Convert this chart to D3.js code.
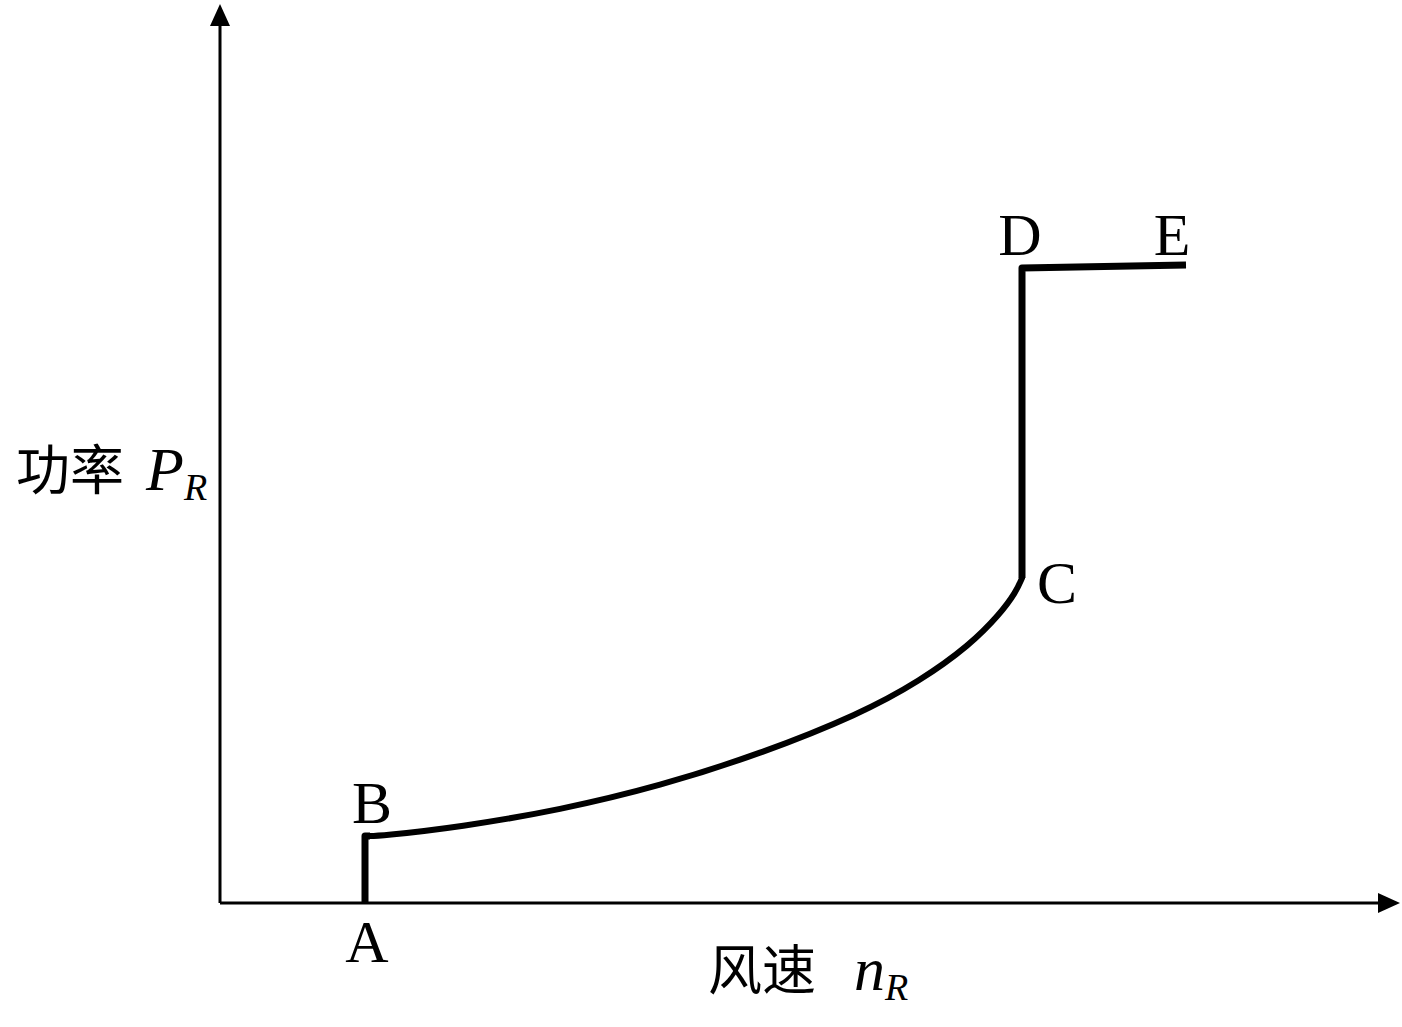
<!DOCTYPE html>
<html>
<head>
<meta charset="utf-8">
<script src="https://cdn.jsdelivr.net/npm/d3@7"></script>
<style>
  body { margin: 0; background: #fff; }
  text { fill: #000; }
</style>
</head>
<body>
<div id="chart"></div>
<script>
// curve data (wind speed vs power, arbitrary units)
var speedAB = [145, 145, 150];
var powerAB = [0, 67, 67];
var speedBC = [148, 160, 240, 340, 440, 540, 640, 700, 750, 780, 796, 802];
var powerBC = [67, 67, 76, 93, 117, 149, 189, 222, 258, 289, 311, 325];
var speedCDE = [802, 802, 802, 966];
var powerCDE = [325, 520, 635, 638];
var pointNames = ["A", "B", "C", "D", "E"];
var pointSpeed = [147, 152, 837, 800, 952];
var pointPower = [-59, 80, 300, 648, 648];

var width = 1402, height = 1027;

var x = d3.scaleLinear().domain([0, 1180]).range([220, 1400]);
var y = d3.scaleLinear().domain([0, 900]).range([903, 3]);

var svg = d3.select("#chart").append("svg")
    .attr("width", width)
    .attr("height", height);

// axes
svg.append("line")
    .attr("x1", x(0)).attr("y1", y(0))
    .attr("x2", x(1162)).attr("y2", y(0))
    .attr("stroke", "#000").attr("stroke-width", 3);
svg.append("line")
    .attr("x1", x(0)).attr("y1", y(0))
    .attr("x2", x(0)).attr("y2", y(880))
    .attr("stroke", "#000").attr("stroke-width", 3);

// arrow heads
svg.append("path")
    .attr("d", "M" + x(1180) + "," + y(0) + " L" + (x(1180) - 22) + "," + (y(0) - 10) +
               " L" + (x(1180) - 22) + "," + (y(0) + 10) + " Z")
    .attr("fill", "#000");
svg.append("path")
    .attr("d", "M" + x(0) + "," + y(899) + " L" + (x(0) - 10) + "," + (y(899) + 22) +
               " L" + (x(0) + 10) + "," + (y(899) + 22) + " Z")
    .attr("fill", "#000");

// the curve
var line = d3.line().x(function(d) { return x(d[0]); }).y(function(d) { return y(d[1]); });
var lineSmooth = d3.line().curve(d3.curveBasis)
    .x(function(d) { return x(d[0]); }).y(function(d) { return y(d[1]); });

svg.append("path")
    .datum(d3.zip(speedAB, powerAB))
    .attr("d", line)
    .attr("fill", "none").attr("stroke", "#000").attr("stroke-width", 7)
    .attr("stroke-linejoin", "round");
svg.append("path")
    .datum(d3.zip(speedBC, powerBC))
    .attr("d", lineSmooth)
    .attr("fill", "none").attr("stroke", "#000").attr("stroke-width", 6)
    .attr("stroke-linecap", "round");
svg.append("path")
    .datum(d3.zip(speedCDE, powerCDE))
    .attr("d", line)
    .attr("fill", "none").attr("stroke", "#000").attr("stroke-width", 7)
    .attr("stroke-linejoin", "round");

// point labels
svg.selectAll(".pt")
    .data(pointNames)
    .enter().append("text")
    .attr("class", "pt")
    .attr("x", function(d, i) { return x(pointSpeed[i]); })
    .attr("y", function(d, i) { return y(pointPower[i]); })
    .attr("text-anchor", "middle")
    .attr("font-family", "Liberation Serif, serif")
    .attr("font-size", 60)
    .text(function(d) { return d; });

// axis titles
var yt = svg.append("text")
    .attr("x", 16).attr("y", 490)
    .attr("font-size", 54);
yt.append("tspan").attr("font-family", "Noto Sans CJK SC").text("功率");
yt.append("tspan").attr("font-family", "Liberation Serif, serif").attr("font-style", "italic")
    .attr("font-size", 62).attr("dx", 22).text("P");
yt.append("tspan").attr("font-family", "Liberation Serif, serif").attr("font-style", "italic")
    .attr("font-size", 38).attr("dy", 10).text("R");

var xt = svg.append("text")
    .attr("x", 708).attr("y", 990)
    .attr("font-size", 54);
xt.append("tspan").attr("font-family", "Noto Sans CJK SC").text("风速");
xt.append("tspan").attr("font-family", "Liberation Serif, serif").attr("font-style", "italic")
    .attr("font-size", 62).attr("dx", 38).text("n");
xt.append("tspan").attr("font-family", "Liberation Serif, serif").attr("font-style", "italic")
    .attr("font-size", 38).attr("dy", 10).text("R");
</script>
</body>
</html>
